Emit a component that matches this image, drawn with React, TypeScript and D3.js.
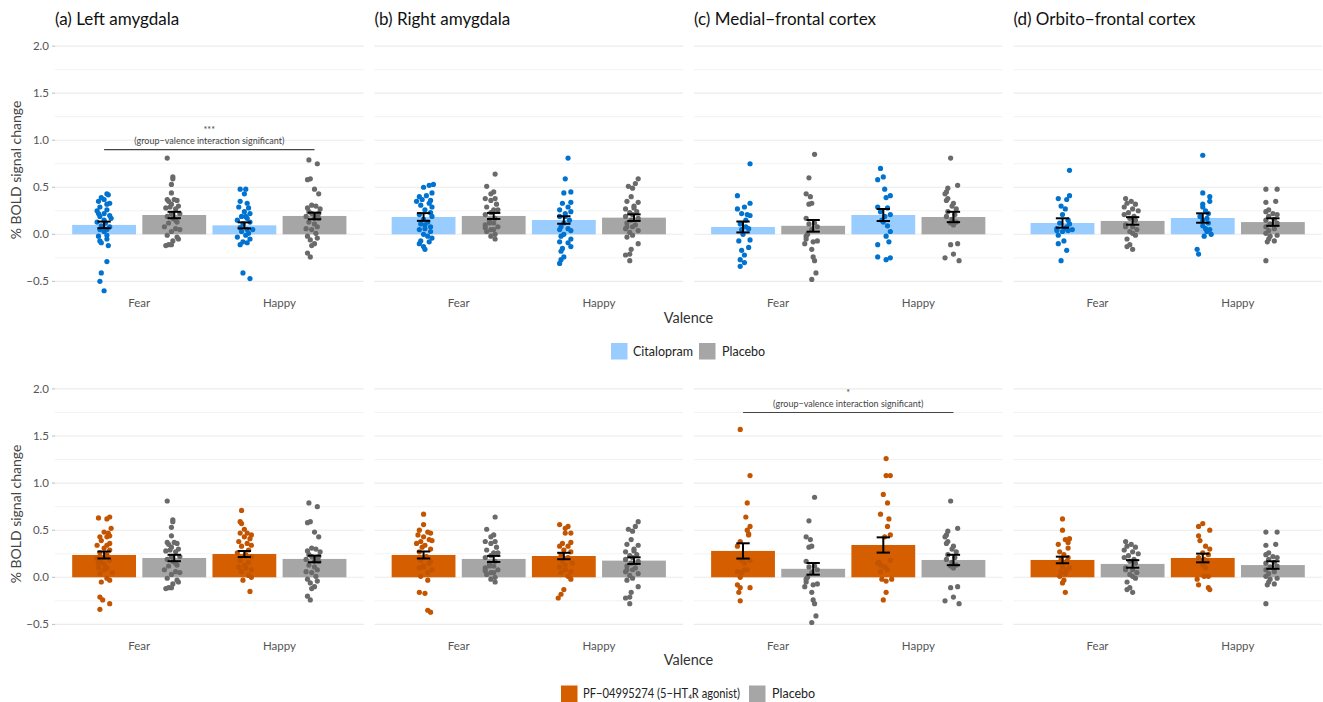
import React from "react";
import * as d3 from "d3";

// ---------- DATA ----------
const regions = ["(a) Left amygdala", "(b) Right amygdala", "(c) Medial−frontal cortex", "(d) Orbito−frontal cortex"];
const valences = ["Fear", "Happy"];
const yMajorTicks = [-0.5, 0, 0.5, 1, 1.5, 2];
const yMinorTicks = [-0.25, 0.25, 0.75, 1.25, 1.75];

// bar means and standard errors: [region][Fear, Happy]
const citMean = [[0.10, 0.095], [0.184, 0.152], [0.078, 0.205], [0.12, 0.173]];
const citSE = [[0.035, 0.032], [0.041, 0.04], [0.058, 0.064], [0.05, 0.05]];
const placMean = [[0.205, 0.195], [0.195, 0.177], [0.09, 0.184], [0.142, 0.13]];
const placSE = [[0.034, 0.035], [0.032, 0.035], [0.062, 0.055], [0.04, 0.04]];
const pfMean = [[0.237, 0.247], [0.237, 0.226], [0.28, 0.343], [0.184, 0.205]];
const pfSE = [[0.037, 0.032], [0.037, 0.034], [0.081, 0.081], [0.035, 0.046]];

// individual participants: [jitter (category units), % BOLD change]
const citLeftAmyFear = [[0.02,0.43],[0.03,0.42],[-0.02,0.39],[0,0.37],[-0.04,0.35],[0.04,0.33],[0.02,0.32],[-0.03,0.29],[-0.05,0.25],[0.02,0.26],[0,0.22],[0.05,0.17],[-0.03,0.19],[-0.05,0.13],[0.01,0.12],[0.04,0.08],[-0.03,0.05],[0,0.03],[0.02,-0.01],[-0.04,-0.02],[0.02,-0.05],[-0.02,-0.09],[0.03,-0.12],[-0.03,-0.07],[0,0.15],[-0.04,0.22],[0.04,0.2],[-0.02,0.09],[0.02,0.05],[0.02,-0.29],[-0.02,-0.41],[-0.03,-0.5],[0,-0.6]];
const placLeftAmyFear = [[-0.05,0.81],[-0.01,0.61],[-0.01,0.59],[-0.02,0.53],[-0.02,0.44],[-0.05,0.37],[0,0.37],[0.02,0.36],[-0.04,0.35],[-0.02,0.32],[0.03,0.3],[-0.06,0.28],[0.01,0.27],[-0.02,0.22],[0.04,0.22],[-0.05,0.19],[-0.01,0.17],[0.02,0.13],[-0.04,0.12],[-0.07,0.08],[0.01,0.06],[0.04,0.05],[-0.02,0.03],[-0.05,-0.01],[0.02,-0.03],[0.03,-0.05],[-0.01,-0.07],[-0.04,-0.11],[-0.06,-0.12],[-0.02,-0.11],[0.01,0.15],[-0.03,0.29]];
const citLeftAmyHappy = [[-0.03,0.48],[0.01,0.48],[0,0.43],[-0.03,0.35],[0.02,0.33],[-0.04,0.29],[0.03,0.28],[0,0.24],[0.04,0.22],[-0.02,0.19],[0.02,0.17],[-0.05,0.15],[0.04,0.13],[-0.01,0.11],[-0.03,0.07],[0.02,0.05],[0.06,0.05],[-0.02,0.03],[0.01,-0.01],[-0.05,-0.03],[0.04,-0.05],[-0.01,-0.08],[0.02,-0.09],[-0.03,-0.11],[-0.01,-0.41],[0.04,-0.47],[0.01,0.19],[0.03,0.01]];
const placLeftAmyHappy = [[-0.04,0.79],[0.02,0.75],[-0.03,0.59],[-0.05,0.58],[0,0.48],[0.03,0.43],[-0.02,0.31],[0.01,0.3],[-0.05,0.28],[0.04,0.27],[-0.02,0.22],[0.01,0.2],[-0.06,0.19],[0.03,0.17],[-0.04,0.13],[0,0.11],[0.02,0.08],[-0.06,0.06],[-0.02,0.05],[0.01,0.01],[-0.05,-0.02],[0.02,-0.04],[-0.03,-0.06],[0,-0.1],[-0.02,-0.12],[-0.05,-0.2],[-0.03,-0.24],[0.03,0.22],[0,0.17],[-0.04,0.24]];

const citRightAmyFear = [[0.07,0.53],[0.04,0.52],[0,0.5],[0.06,0.44],[-0.03,0.4],[0.02,0.41],[-0.01,0.37],[-0.05,0.35],[0.04,0.33],[0.06,0.29],[-0.02,0.31],[0.01,0.26],[0.05,0.23],[-0.03,0.21],[0.06,0.19],[0,0.16],[0.03,0.13],[-0.02,0.11],[0.05,0.08],[0.01,0.06],[-0.03,0.05],[0.05,0.03],[0,0],[0.03,-0.02],[0.06,-0.04],[-0.02,-0.07],[0.04,-0.08],[-0.03,-0.1],[0,-0.13],[0.01,-0.16],[0.05,0.36],[0.01,0.1]];
const placRightAmyFear = [[0.01,0.64],[-0.05,0.51],[0,0.45],[-0.06,0.38],[0.01,0.38],[-0.02,0.36],[0.02,0.32],[-0.05,0.29],[0.03,0.26],[-0.02,0.23],[-0.06,0.21],[0.01,0.17],[-0.03,0.15],[0,0.12],[-0.06,0.1],[0.03,0.08],[-0.02,0.05],[-0.05,0.03],[0.01,0],[-0.02,-0.02],[0.01,-0.05],[0,0.05],[-0.03,0.12],[-0.06,0.07],[0,0.26],[-0.02,0.43]];
const citRightAmyHappy = [[0.03,0.81],[0.01,0.59],[0,0.44],[0.05,0.45],[0.05,0.34],[-0.01,0.33],[0.03,0.29],[-0.03,0.26],[0.05,0.24],[0.01,0.22],[-0.03,0.19],[0.04,0.15],[0,0.12],[-0.02,0.08],[0.05,0.04],[-0.03,0.05],[0,0],[-0.02,-0.02],[0.05,-0.05],[-0.03,-0.08],[0.03,-0.09],[0.05,-0.13],[-0.01,-0.15],[-0.02,-0.18],[0,-0.24],[-0.02,-0.27],[-0.03,-0.31],[0.01,0.19],[0.03,0.06]];
const placRightAmyHappy = [[0.03,0.59],[0.01,0.54],[-0.04,0.51],[-0.01,0.49],[-0.02,0.4],[-0.05,0.35],[0.03,0.34],[0,0.3],[-0.06,0.27],[0.02,0.24],[-0.03,0.23],[-0.01,0.21],[-0.06,0.19],[0.03,0.17],[-0.02,0.15],[-0.05,0.12],[0.01,0.1],[-0.01,0.08],[-0.06,0.06],[0.03,0.04],[-0.03,0.02],[-0.01,-0.01],[-0.05,-0.03],[0.03,-0.1],[-0.02,-0.16],[-0.03,-0.21],[-0.06,-0.22],[-0.03,-0.28],[0,0.28],[-0.05,0.08]];

const citMedFrontFear = [[0.05,0.75],[-0.04,0.41],[0.05,0.33],[-0.04,0.27],[0.01,0.29],[-0.01,0.22],[0.03,0.21],[0.05,0.2],[0.02,0.15],[-0.02,0.11],[0.04,0.06],[0,0],[-0.03,-0.07],[0.05,-0.06],[0.04,-0.14],[-0.01,-0.17],[0.01,-0.22],[-0.02,-0.27],[0.01,-0.3],[-0.02,-0.34],[0.02,0.08],[-0.01,0.05]];
const placMedFrontFear = [[0.01,0.85],[-0.03,0.6],[-0.05,0.43],[-0.02,0.4],[-0.03,0.32],[-0.01,0.33],[-0.05,0.17],[0.01,0.12],[-0.03,0.11],[0.03,0.08],[-0.01,0.05],[-0.04,0],[-0.05,-0.05],[0,-0.08],[0.03,-0.07],[-0.06,-0.1],[-0.01,-0.16],[0,-0.24],[0.01,-0.28],[0.02,-0.41],[-0.01,-0.48],[-0.05,-0.02]];
const citMedFrontHappy = [[-0.02,0.7],[0,0.61],[-0.04,0.58],[0.01,0.48],[0.05,0.41],[0.02,0.39],[-0.04,0.29],[0.03,0.28],[-0.02,0.24],[0.05,0.21],[0.01,0.19],[-0.01,0.15],[0.03,0.09],[0.05,0.03],[0.02,-0.02],[0.04,-0.08],[-0.04,-0.11],[-0.04,-0.24],[0.02,-0.27],[0.05,-0.25],[0,0.13]];
const placMedFrontHappy = [[-0.02,0.81],[0.03,0.52],[-0.04,0.49],[-0.05,0.45],[-0.06,0.43],[-0.04,0.38],[-0.05,0.36],[0,0.33],[-0.01,0.3],[0.02,0.27],[-0.04,0.24],[0.01,0.21],[-0.05,0.19],[-0.01,0.16],[0.02,0.13],[-0.02,0.12],[0,0.1],[-0.02,-0.11],[0.03,-0.1],[0,-0.21],[-0.06,-0.25],[0.04,-0.28]];

const citOrbFrontFear = [[0.05,0.68],[0.05,0.41],[-0.03,0.38],[0.03,0.37],[-0.01,0.3],[0.02,0.27],[0,0.21],[0.04,0.15],[-0.02,0.12],[0.05,0.11],[0.03,0.08],[-0.04,0.06],[0.07,0.05],[0,0.03],[0.04,0.04],[-0.03,-0.01],[0.01,-0.07],[-0.03,-0.1],[0.03,-0.17],[-0.01,-0.28],[0.02,0.06],[-0.04,0.04]];
const placOrbFrontFear = [[-0.05,0.38],[-0.01,0.35],[-0.04,0.33],[0.02,0.32],[-0.06,0.29],[0,0.27],[0.04,0.25],[-0.03,0.23],[-0.06,0.21],[0.01,0.19],[-0.02,0.17],[0.02,0.15],[-0.05,0.1],[0,0.08],[0.03,0.05],[-0.02,0.03],[0.02,-0.01],[-0.04,-0.05],[0,0.01],[-0.02,-0.11],[-0.04,-0.13],[0,-0.16],[-0.05,0.08]];
const citOrbFrontHappy = [[0,0.84],[0,0.44],[0.05,0.4],[0.05,0.35],[0,0.32],[0,0.29],[0.02,0.25],[0.04,0.22],[-0.02,0.19],[0.03,0.17],[0,0.15],[0.04,0.12],[0,0.09],[0.02,0.06],[0.05,0.05],[0.06,0],[0.01,-0.02],[-0.04,-0.16],[-0.03,-0.21],[0.03,0.03]];
const placOrbFrontHappy = [[-0.05,0.48],[0.03,0.48],[0.02,0.35],[-0.05,0.34],[-0.03,0.26],[-0.05,0.24],[0,0.22],[0.03,0.21],[-0.03,0.19],[0.01,0.16],[-0.05,0.15],[0.03,0.12],[-0.02,0.11],[-0.05,0.08],[0.01,0.06],[-0.03,0.04],[0.03,-0.01],[-0.05,0.01],[-0.02,-0.02],[-0.03,-0.05],[0.01,-0.07],[-0.04,-0.08],[-0.05,-0.28]];

const pfLeftAmyFear = [[-0.04,0.63],[0.04,0.64],[0.02,0.62],[0.05,0.52],[0,0.48],[0.03,0.47],[-0.03,0.43],[0.02,0.43],[0.04,0.44],[-0.02,0.39],[-0.05,0.34],[0.02,0.34],[0,0.31],[0.04,0.29],[-0.03,0.26],[0.02,0.24],[-0.05,0.2],[0.04,0.18],[-0.02,0.16],[-0.04,0.1],[0.02,0.1],[0,0.08],[0.06,0.05],[-0.03,0.04],[0.02,-0.01],[0.04,-0.03],[-0.02,-0.05],[-0.03,-0.21],[-0.01,-0.24],[0.04,-0.28],[-0.03,-0.34],[0,0.14],[-0.04,0.15],[0.04,0.36]];
const pfLeftAmyHappy = [[-0.02,0.71],[-0.03,0.59],[-0.02,0.57],[0,0.51],[-0.03,0.47],[0.02,0.47],[0.05,0.45],[0,0.43],[0.04,0.41],[-0.04,0.38],[0.02,0.36],[0.05,0.34],[-0.02,0.33],[0.03,0.29],[-0.05,0.26],[0.01,0.24],[0.05,0.22],[-0.03,0.18],[0.03,0.16],[-0.04,0.11],[0.01,0.1],[0.05,0.08],[-0.02,0.06],[0.03,0.02],[0.05,0],[-0.01,-0.03],[0.04,-0.15],[0,0.13]];
const pfRightAmyFear = [[0,0.67],[0,0.56],[-0.03,0.5],[0.03,0.48],[0.05,0.47],[-0.04,0.45],[0,0.43],[0.04,0.4],[-0.02,0.38],[0.06,0.39],[-0.05,0.36],[0.01,0.34],[-0.01,0.32],[0.05,0.3],[-0.03,0.27],[0.02,0.22],[-0.02,0.18],[0.05,0.17],[0,0.12],[-0.03,0.1],[0.06,0.08],[0.03,0.05],[-0.02,0.01],[0.03,-0.03],[-0.03,-0.16],[0.01,-0.17],[0.03,-0.35],[0.05,-0.37],[0,0.11],[0.04,0.15]];
const pfRightAmyHappy = [[-0.03,0.56],[0.03,0.54],[0.01,0.52],[0.05,0.47],[0.01,0.47],[-0.01,0.36],[0.05,0.37],[-0.03,0.33],[0.03,0.33],[0,0.29],[0.05,0.27],[-0.02,0.24],[0.03,0.21],[-0.01,0.17],[0.06,0.15],[-0.03,0.11],[0.01,0.08],[0.05,0.06],[-0.02,0.05],[0.03,0.01],[0.05,-0.02],[0,-0.13],[-0.02,-0.18],[-0.04,-0.22],[0.01,0.13]];
const pfMedFrontFear = [[-0.02,1.57],[0.05,1.08],[0.03,0.79],[0.02,0.64],[0.05,0.54],[0.03,0.5],[0.04,0.45],[0.04,0.46],[-0.02,0.38],[-0.04,0.33],[0.05,0.18],[-0.01,0.18],[0.01,0.08],[0.03,0.08],[-0.04,0.06],[-0.01,0.05],[-0.02,0],[-0.04,-0.08],[-0.02,-0.11],[0.05,-0.11],[-0.03,-0.16],[-0.02,-0.25],[0.01,0.15]];
const pfMedFrontHappy = [[0.02,1.26],[0.02,1.08],[0.05,1.08],[0,0.88],[0.03,0.79],[-0.02,0.67],[0.04,0.62],[0.03,0.54],[0.05,0.45],[-0.03,0.16],[0.05,0.18],[-0.02,0.13],[0.01,0.11],[0.03,0.08],[-0.02,0.06],[-0.01,-0.02],[0.02,-0.04],[0.06,-0.02],[0.02,-0.16],[0,-0.24],[-0.04,0.15],[0.01,0.43]];
const pfOrbFrontFear = [[0,0.62],[0,0.5],[0.05,0.41],[0.02,0.4],[0.04,0.37],[-0.03,0.35],[0.04,0.31],[-0.02,0.27],[0.01,0.24],[0.04,0.21],[-0.01,0.19],[0.03,0.17],[0.05,0.1],[0,0.11],[0.03,0.08],[-0.01,0.06],[0.02,0.04],[-0.02,0.01],[0.01,-0.03],[0,-0.06],[0.02,-0.16]];
const pfOrbFrontHappy = [[0,0.57],[-0.03,0.54],[0.05,0.5],[-0.03,0.44],[-0.02,0.39],[0.02,0.33],[0.05,0.3],[0,0.26],[0.04,0.24],[-0.03,0.21],[0.01,0.19],[0.03,0.17],[0.02,0.1],[0.01,0.01],[0.04,0.01],[-0.04,-0.02],[-0.03,-0.08],[0.04,-0.11],[0.05,-0.13],[0,0.13]];

const citPoints = [
  [citLeftAmyFear, citLeftAmyHappy], [citRightAmyFear, citRightAmyHappy],
  [citMedFrontFear, citMedFrontHappy], [citOrbFrontFear, citOrbFrontHappy]];
const placPoints = [
  [placLeftAmyFear, placLeftAmyHappy], [placRightAmyFear, placRightAmyHappy],
  [placMedFrontFear, placMedFrontHappy], [placOrbFrontFear, placOrbFrontHappy]];
const pfPoints = [
  [pfLeftAmyFear, pfLeftAmyHappy], [pfRightAmyFear, pfRightAmyHappy],
  [pfMedFrontFear, pfMedFrontHappy], [pfOrbFrontFear, pfOrbFrontHappy]];

// significance annotations
const sigAnnotations = [
  { row: 0, region: 0, lineY: 0.9, textY: 0.96, starY: 1.075, stars: "***" },
  { row: 1, region: 2, lineY: 1.75, textY: 1.81, starY: 1.925, stars: "*" },
];
const sigLabel = "(group−valence interaction significant)";
const legendTop = ["Citalopram", "Placebo"];
const legendBottom = ["PF−04995274 (5−HT₄R agonist)", "Placebo"];

// ---------- STYLE ----------
const FONT = "Lato, 'Noto Sans', sans-serif";
const COL = {
  citBar: "#99ccff", citPt: "#0072d0",
  placBar: "#a6a6a6", placPt: "#6a6a6a",
  pfBar: "#d55e00", pfPt: "#c35400",
};

const W = 1323, H = 702;
const rows = [
  { y0: 234.3, unit: 94.1, treat: "cit", yTitle: 170, xLab: 307, xTitle: 323 },
  { y0: 577.3, unit: 94.2, treat: "pf", yTitle: 514, xLab: 650, xTitle: 665 },
];
const fmt = (v: number) => d3.format(".1f")(v).replace("-", "−");

const panelBand = d3.scaleBand<string>().domain(regions).range([55, 1322]).paddingInner(0.034).paddingOuter(0);

export default function App() {
  const bw = panelBand.bandwidth();
  const xIn = d3.scaleLinear().domain([0.4, 2.6]).range([0, bw]);
  const unitPx = xIn(1) - xIn(0);
  const dodge = 0.25, barW = 0.455, capW = 0.095;

  const rowEls = rows.map((row, ri) => {
    const y = d3.scaleLinear()
      .domain([-0.625, 2.125])
      .range([row.y0 + 0.625 * row.unit, row.y0 - 2.125 * row.unit]);
    const isCit = row.treat === "cit";
    const tMean = isCit ? citMean : pfMean;
    const tSE = isCit ? citSE : pfSE;
    const tPts = isCit ? citPoints : pfPoints;
    const tBar = isCit ? COL.citBar : COL.pfBar;
    const tPt = isCit ? COL.citPt : COL.pfPt;

    return (
      <g key={ri}>
        {regions.map((reg, gi) => {
          const px = panelBand(reg)!;
          const groups = [
            { off: -dodge, mean: tMean[gi], se: tSE[gi], pts: tPts[gi], bar: tBar, pt: tPt },
            { off: dodge, mean: placMean[gi], se: placSE[gi], pts: placPoints[gi], bar: COL.placBar, pt: COL.placPt },
          ];
          const ann = sigAnnotations.filter(a => a.row === ri && a.region === gi);
          return (
            <g key={reg} transform={`translate(${px},0)`}>
              {yMinorTicks.map(t => (
                <line key={"mi" + t} x1={0} x2={bw} y1={y(t)} y2={y(t)} stroke="#f0f0f0" strokeWidth={0.9} />
              ))}
              {yMajorTicks.map(t => (
                <line key={"ma" + t} x1={0} x2={bw} y1={y(t)} y2={y(t)} stroke="#ebebeb" strokeWidth={1.1} />
              ))}
              {gi === 0 && yMajorTicks.map(t => (
                <g key={"tk" + t}>
                  <line x1={-3} x2={0} y1={y(t)} y2={y(t)} stroke="#aaaaaa" strokeWidth={0.8} />
                  <text x={-6} y={y(t)} dy="0.35em" textAnchor="end" fontSize={11.5} fill="#555" fontFamily={FONT}>{fmt(t)}</text>
                </g>
              ))}
              {ri === 0 && (
                <text x={0} y={24.5} fontSize={17} fill="#111" fontFamily={FONT}>{reg}</text>
              )}
              {valences.map((v, vi) => (
                <g key={v}>
                  {groups.map((g, k) => {
                    const cx = xIn(vi + 1 + g.off);
                    return (
                      <rect key={"b" + k} x={cx - (barW / 2) * unitPx} width={barW * unitPx}
                        y={y(Math.max(0, g.mean[vi]))} height={Math.abs(y(g.mean[vi]) - y(0))} fill={g.bar} />
                    );
                  })}
                  {groups.map((g, k) => {
                    const c = vi + 1 + g.off;
                    return (
                      <g key={"p" + k}>
                        {g.pts[vi].map((p, pi) => (
                          <circle key={pi} cx={xIn(c + p[0])} cy={y(p[1])} r={2.6} fill={g.pt} />
                        ))}
                      </g>
                    );
                  })}
                  {groups.map((g, k) => {
                    const c = vi + 1 + g.off;
                    const lo = g.mean[vi] - g.se[vi], hi = g.mean[vi] + g.se[vi];
                    const x1 = xIn(c - capW / 2), x2 = xIn(c + capW / 2);
                    return (
                      <g key={"e" + k} stroke="#000" strokeWidth={2}>
                        <line x1={xIn(c)} x2={xIn(c)} y1={y(lo)} y2={y(hi)} />
                        <line x1={x1} x2={x2} y1={y(lo)} y2={y(lo)} />
                        <line x1={x1} x2={x2} y1={y(hi)} y2={y(hi)} />
                      </g>
                    );
                  })}
                  <text x={xIn(vi + 1)} y={row.xLab} textAnchor="middle" fontSize={11.5} fill="#555" fontFamily={FONT}>{v}</text>
                </g>
              ))}
              {ann.map((a, ai) => {
                const xa = xIn(1 - dodge), xb = xIn(2 + dodge);
                const xm = (xa + xb) / 2;
                return (
                  <g key={ai}>
                    <line x1={xa} x2={xb} y1={y(a.lineY)} y2={y(a.lineY)} stroke="#444" strokeWidth={1.1} />
                    <text x={xm} y={y(a.starY)} textAnchor="middle" fontSize={9} fill="#444" fontFamily={FONT}>{a.stars}</text>
                    <text x={xm} y={y(a.textY)} textAnchor="middle" fontSize={9} fill="#444" fontFamily={FONT}>{sigLabel}</text>
                  </g>
                );
              })}
            </g>
          );
        })}
        <text transform={`translate(21,${row.yTitle}) rotate(-90)`} textAnchor="middle" fontSize={14} fill="#444" fontFamily={FONT}>% BOLD signal change</text>
        <text x={(55 + 1322) / 2} y={row.xTitle} textAnchor="middle" fontSize={14.5} fill="#333" fontFamily={FONT}>Valence</text>
      </g>
    );
  });

  return (
    <svg width={W} height={H} style={{ position: "absolute", left: 0, top: 0, background: "#fff" }}>
      <rect width={W} height={H} fill="#fff" />
      {rowEls}
      {/* legend top */}
      <g fontFamily={FONT} fontSize={12.5} fill="#222">
        <rect x={611} y={343} width={16.5} height={16.5} fill={COL.citBar} />
        <text x={633} y={355.5}>{legendTop[0]}</text>
        <rect x={699} y={343} width={16.5} height={16.5} fill={COL.placBar} />
        <text x={722} y={355.5}>{legendTop[1]}</text>
      </g>
      {/* legend bottom */}
      <g fontFamily={FONT} fontSize={12.5} fill="#222">
        <rect x={561} y={685.5} width={16.5} height={16.5} fill={COL.pfBar} />
        <text x={583} y={698} textLength={157} lengthAdjust="spacingAndGlyphs">{legendBottom[0]}</text>
        <rect x={749} y={685.5} width={16.5} height={16.5} fill={COL.placBar} />
        <text x={772} y={698}>{legendBottom[1]}</text>
      </g>
    </svg>
  );
}
